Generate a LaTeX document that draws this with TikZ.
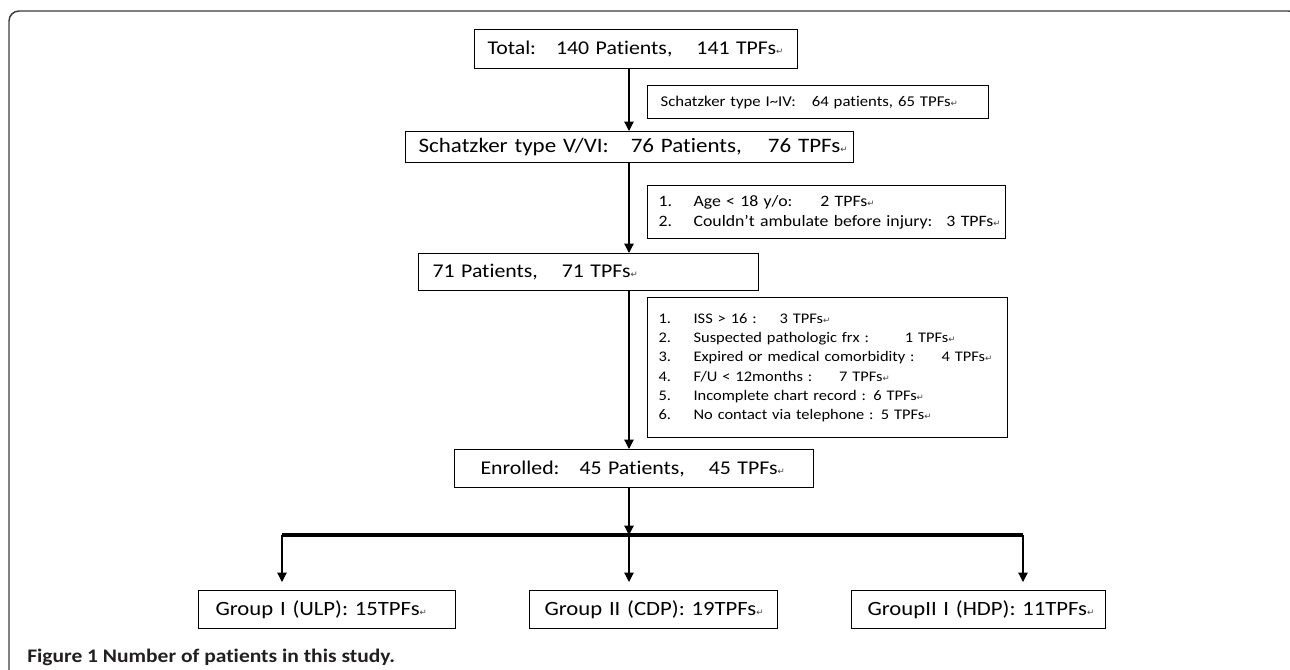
\documentclass[tikz,border=0pt]{standalone}
\usepackage{fontspec}
\setmainfont[Ligatures=NoCommon, FakeStretch=1.12]{Carlito}
\newfontfamily\symfont{DejaVu Sans}
\usetikzlibrary{arrows.meta}
\newdimen\px \px=0.75pt
% Word paragraph mark
\newcommand\retmark{{\symfont\fontsize{6.5}{6.5}\selectfont\textcolor{black!75}{↵}}}
\newcommand\gap[1]{\hspace{#1\px}}
\definecolor{framegray}{RGB}{60,60,60}
\definecolor{capgray}{RGB}{35,31,32}
\tikzset{
  flowbox/.style={draw, line width=0.9pt, anchor=north west, inner xsep=13\px, inner ysep=0pt, align=left},
  bigtext/.style={font=\fontsize{14.6}{16}\selectfont},
  smalltext/.style={font=\fontsize{11.2}{14.5}\selectfont},
  listtext/.style={font=\fontsize{11}{14.5}\selectfont},
  grouptext/.style={font=\fontsize{15.2}{16}\selectfont},
  flowarrow/.style={line width=0.9pt, -{Triangle[length=7pt,width=7pt]}},
  framerule/.style={line width=1.1pt, draw=framegray},
  captext/.style={font=\fontsize{14.4}{16}\selectfont\bfseries, text=capgray, inner sep=0pt}
}
\begin{document}
\begin{tikzpicture}[x=0.75pt,y=-0.75pt]
\useasboundingbox (0,0) rectangle (1290,669);
\clip (0,0) rectangle (1290,669);
% outer frame
\draw[framerule, rounded corners=10\px] (9,700) -- (9,11) -- (1299,11) -- (1299,80);
% main boxes
\node[flowbox, bigtext, text width=297\px, minimum height=39\px] (total) at (474,29)
  {\mbox{Total:\gap{20}140 Patients,\gap{24}141 TPFs\retmark}};
\node[flowbox, bigtext, font=\fontsize{15.4}{16}\selectfont, text width=422\px, minimum height=31\px] (vvi) at (405,131)
  {\mbox{Schatzker type V/VI:\gap{22}76 Patients,\gap{26}76 TPFs\retmark}};
\node[flowbox, bigtext, inner xsep=14\px, text width=312\px, minimum height=37\px] (p71) at (418,253)
  {\mbox{71 Patients,\gap{24}71 TPFs\retmark}};
\node[flowbox, bigtext, inner xsep=26\px, text width=307\px, minimum height=38\px] (enrolled) at (454,449)
  {\mbox{Enrolled:\gap{20}45 Patients,\gap{24}45 TPFs\retmark}};
% exclusion boxes
\node[flowbox, smalltext, inner xsep=13\px, text width=315\px, minimum height=33\px] (typeI) at (647,85)
  {\mbox{Schatzker type I{\char"7E}IV:\gap{16}64 patients, 65 TPFs\retmark}};
\node[flowbox, listtext, font=\fontsize{11.9}{15}\selectfont, inner xsep=11\px, text width=336\px, minimum height=53\px] (excl1) at (647,185)
  {\begin{tabular}{@{}p{35\px}@{}l@{}}
   1. & Age < 18 y/o:\gap{28}2 TPFs\retmark\\
   2. & Couldn’t ambulate before injury:\gap{14}3 TPFs\retmark
   \end{tabular}};
\node[flowbox, listtext, inner xsep=11\px, text width=338\px, minimum height=140\px] (excl2) at (647,297)
  {\begin{tabular}{@{}p{35\px}@{}l@{}}
   1. & ISS > 16 :\gap{23}3 TPFs\retmark\\
   2. & Suspected pathologic frx :\gap{36}1 TPFs\retmark\\
   3. & Expired or medical comorbidity :\gap{27}4 TPFs\retmark\\
   4. & F/U < 12months :\gap{27}7 TPFs\retmark\\
   5. & Incomplete chart record : 6 TPFs\retmark\\
   6. & No contact via telephone : 5 TPFs\retmark
   \end{tabular}};
% group boxes
\node[flowbox, grouptext, inner xsep=17\px, text width=223\px, minimum height=38\px] (g1) at (198,590)
  {\mbox{Group I (ULP): 15TPFs\retmark}};
\node[flowbox, grouptext, inner xsep=15\px, text width=218\px, minimum height=38\px] (g2) at (529,590)
  {\mbox{Group II (CDP): 19TPFs\retmark}};
\node[flowbox, grouptext, inner xsep=16\px, text width=222\px, minimum height=38\px] (g3) at (851,590)
  {\mbox{GroupII I (HDP): 11TPFs\retmark}};
% spine and branch bar
\coordinate (spine) at (629,0);
\coordinate (barL) at (282,535);
\coordinate (barR) at (1023,535);
\draw[flowarrow] (total.south -| spine) -- (vvi.north -| spine);
\draw[flowarrow] (vvi.south -| spine) -- (p71.north -| spine);
\draw[flowarrow] (p71.south -| spine) -- (enrolled.north -| spine);
\draw[flowarrow] (enrolled.south -| spine) -- (barL -| spine);
\draw[line width=3.2\px] (barL) -- (barR);
\draw[flowarrow, shorten >=8\px] (barL) -- (g1.north -| barL);
\draw[flowarrow, shorten >=8\px] (barL -| spine) -- (g2.north -| spine);
\draw[flowarrow, shorten >=8\px] (barR) -- (g3.north -| barR);
% caption
\node[captext, anchor=base west] (cap) at (27,662) {Figure 1 Number of patients in this study.};
\end{tikzpicture}
\end{document}
